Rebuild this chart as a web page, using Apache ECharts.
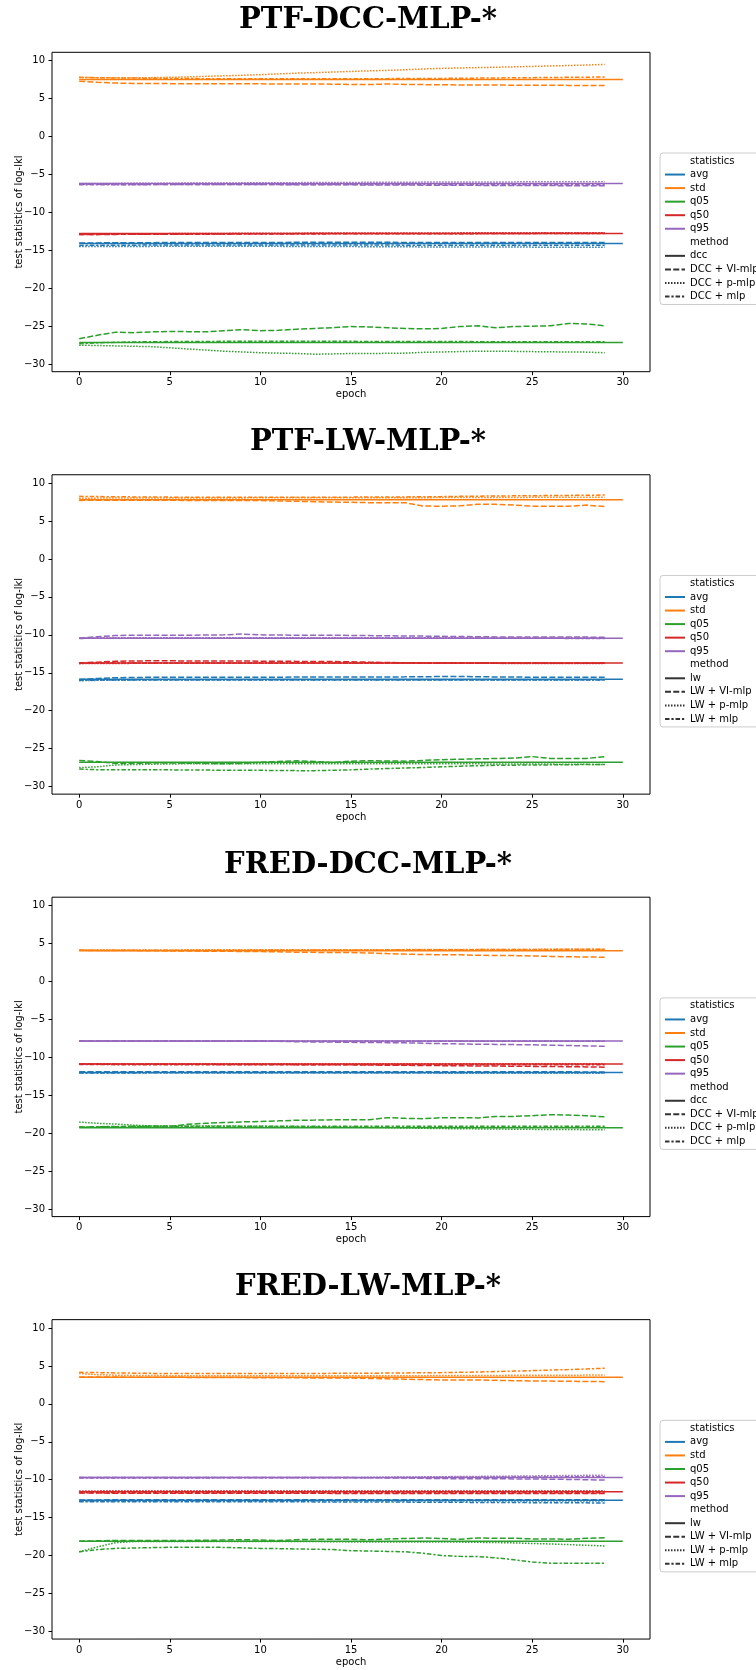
<!DOCTYPE html>
<html><head><meta charset="utf-8">
<script src="https://cdn.jsdelivr.net/npm/echarts@6/dist/echarts.min.js"></script>
<style>html,body{margin:0;padding:0;background:#fff}#chart{width:756px;height:1670px}</style>
</head><body><div id="chart"></div>
<script>
// ---------- data ----------
const epochs = [0,1,2,3,4,5,6,7,8,9,10,11,12,13,14,15,16,17,18,19,20,21,22,23,24,25,26,27,28,29];
const baseEpochs = [0, 30];
const statNames = ['avg','std','q05','q50','q95'];
const panelTitles = ['PTF-DCC-MLP-*','PTF-LW-MLP-*','FRED-DCC-MLP-*','FRED-LW-MLP-*'];
const dccMethods = ['dcc','DCC + VI-mlp','DCC + p-mlp','DCC + mlp'];
const lwMethods = ['lw','LW + VI-mlp','LW + p-mlp','LW + mlp'];
const xTicks = [0,5,10,15,20,25,30];
const yTicks = [-30,-25,-20,-15,-10,-5,0,5,10];

// Panel 1: PTF-DCC-MLP-*  (baseline order: avg, std, q05, q50, q95)
const p1_base = [-14.1, 7.5, -27.15, -12.8, -6.2];
const p1_vi_avg = [-14.05,-14.02,-14.0,-14.0,-13.99,-13.98,-13.98,-13.97,-13.97,-13.96,-13.96,-13.96,-13.95,-13.95,-13.95,-13.95,-13.95,-13.95,-13.96,-13.96,-13.96,-13.96,-13.97,-13.97,-13.97,-13.97,-13.98,-13.98,-13.98,-13.98];
const p1_vi_std = [7.28,7.15,7.05,7.0,6.98,6.97,6.95,6.95,6.96,6.95,6.94,6.93,6.93,6.92,6.9,6.86,6.85,6.92,6.87,6.84,6.82,6.8,6.8,6.78,6.77,6.76,6.75,6.74,6.73,6.71];
const p1_vi_q05 = [-26.65,-26.2,-25.8,-25.85,-25.75,-25.7,-25.72,-25.75,-25.6,-25.45,-25.6,-25.55,-25.4,-25.3,-25.2,-25.05,-25.1,-25.2,-25.3,-25.35,-25.3,-25.05,-24.95,-25.2,-25.05,-25.0,-24.95,-24.65,-24.7,-24.95];
const p1_vi_q50 = [-12.92,-12.9,-12.9,-12.89,-12.88,-12.87,-12.86,-12.85,-12.84,-12.83,-12.82,-12.81,-12.8,-12.8,-12.8,-12.79,-12.79,-12.79,-12.78,-12.78,-12.78,-12.78,-12.77,-12.77,-12.77,-12.77,-12.76,-12.76,-12.76,-12.76];
const p1_vi_q95 = [-6.3,-6.3,-6.31,-6.31,-6.32,-6.32,-6.32,-6.33,-6.33,-6.33,-6.34,-6.34,-6.35,-6.35,-6.36,-6.37,-6.38,-6.39,-6.4,-6.41,-6.42,-6.43,-6.44,-6.45,-6.46,-6.47,-6.47,-6.48,-6.48,-6.48];
const p1_p_avg = [-14.5,-14.5,-14.5,-14.49,-14.48,-14.48,-14.47,-14.47,-14.47,-14.47,-14.48,-14.48,-14.49,-14.5,-14.5,-14.51,-14.52,-14.53,-14.54,-14.55,-14.55,-14.56,-14.56,-14.57,-14.57,-14.58,-14.58,-14.59,-14.59,-14.6];
const p1_p_std = [7.78,7.76,7.75,7.75,7.76,7.8,7.86,7.93,8.0,8.07,8.15,8.25,8.35,8.42,8.5,8.58,8.65,8.72,8.8,8.9,8.98,9.03,9.08,9.13,9.18,9.24,9.3,9.36,9.42,9.5];
const p1_p_q05 = [-27.5,-27.55,-27.6,-27.65,-27.7,-27.85,-28.0,-28.15,-28.3,-28.4,-28.5,-28.55,-28.6,-28.7,-28.65,-28.6,-28.6,-28.58,-28.55,-28.45,-28.4,-28.35,-28.3,-28.3,-28.32,-28.35,-28.38,-28.4,-28.42,-28.5];
const p1_p_q50 = [-12.85,-12.84,-12.83,-12.82,-12.81,-12.8,-12.79,-12.78,-12.77,-12.76,-12.75,-12.74,-12.74,-12.73,-12.73,-12.72,-12.72,-12.72,-12.71,-12.71,-12.71,-12.7,-12.7,-12.7,-12.7,-12.69,-12.69,-12.69,-12.68,-12.68];
const p1_p_q95 = [-6.2,-6.19,-6.18,-6.17,-6.16,-6.15,-6.14,-6.13,-6.12,-6.11,-6.1,-6.09,-6.08,-6.07,-6.06,-6.05,-6.04,-6.03,-6.02,-6.01,-6.0,-6.0,-5.99,-5.98,-5.98,-5.97,-5.96,-5.96,-5.95,-5.95];
const p1_mlp_avg = [-14.35,-14.34,-14.33,-14.32,-14.31,-14.3,-14.3,-14.3,-14.3,-14.3,-14.3,-14.3,-14.3,-14.3,-14.31,-14.31,-14.31,-14.31,-14.32,-14.32,-14.32,-14.32,-14.32,-14.32,-14.32,-14.32,-14.32,-14.32,-14.32,-14.32];
const p1_mlp_std = [7.8,7.75,7.72,7.7,7.68,7.66,7.64,7.62,7.6,7.6,7.6,7.6,7.6,7.6,7.6,7.62,7.62,7.63,7.64,7.65,7.66,7.68,7.7,7.72,7.74,7.76,7.78,7.8,7.82,7.85];
const p1_mlp_q05 = [-27.3,-27.2,-27.12,-27.08,-27.05,-27.03,-27.02,-27.01,-27.0,-27.0,-27.0,-27.0,-27.0,-27.0,-27.0,-27.0,-27.01,-27.01,-27.02,-27.02,-27.03,-27.03,-27.04,-27.04,-27.05,-27.05,-27.05,-27.06,-27.06,-27.06];
const p1_mlp_q50 = [-12.9,-12.9,-12.89,-12.89,-12.88,-12.88,-12.87,-12.87,-12.86,-12.86,-12.85,-12.85,-12.84,-12.84,-12.83,-12.83,-12.82,-12.82,-12.82,-12.81,-12.81,-12.81,-12.8,-12.8,-12.8,-12.8,-12.79,-12.79,-12.79,-12.79];
const p1_mlp_q95 = [-6.35,-6.35,-6.35,-6.35,-6.34,-6.34,-6.34,-6.34,-6.33,-6.33,-6.33,-6.33,-6.33,-6.33,-6.33,-6.33,-6.33,-6.34,-6.34,-6.34,-6.34,-6.35,-6.35,-6.35,-6.36,-6.36,-6.36,-6.37,-6.37,-6.37];

// Panel 2: PTF-LW-MLP-*
const p2_base = [-15.85, 7.8, -26.8, -13.7, -10.45];
const p2_vi_avg = [-15.9,-15.75,-15.65,-15.62,-15.6,-15.6,-15.6,-15.6,-15.6,-15.6,-15.58,-15.58,-15.57,-15.57,-15.56,-15.55,-15.55,-15.55,-15.54,-15.52,-15.5,-15.5,-15.52,-15.55,-15.57,-15.58,-15.6,-15.6,-15.6,-15.6];
const p2_vi_std = [7.72,7.75,7.75,7.74,7.74,7.73,7.72,7.72,7.71,7.7,7.7,7.65,7.6,7.55,7.5,7.46,7.42,7.4,7.4,6.98,6.95,7.0,7.2,7.2,7.1,6.95,6.95,6.95,7.1,6.9];
const p2_vi_q05 = [-26.55,-26.7,-26.95,-26.95,-26.9,-26.9,-26.92,-26.95,-27.0,-26.95,-26.8,-26.7,-26.6,-26.7,-26.85,-26.65,-26.6,-26.62,-26.65,-26.55,-26.45,-26.4,-26.35,-26.3,-26.25,-26.05,-26.3,-26.3,-26.3,-26.05];
const p2_vi_q50 = [-13.7,-13.6,-13.48,-13.45,-13.42,-13.42,-13.45,-13.45,-13.45,-13.45,-13.47,-13.48,-13.5,-13.5,-13.52,-13.55,-13.6,-13.65,-13.68,-13.7,-13.7,-13.7,-13.7,-13.7,-13.7,-13.7,-13.72,-13.72,-13.72,-13.72];
const p2_vi_q95 = [-10.45,-10.25,-10.1,-10.05,-10.05,-10.05,-10.05,-10.03,-10.0,-9.9,-10.0,-10.03,-10.05,-10.05,-10.05,-10.08,-10.1,-10.12,-10.15,-10.17,-10.2,-10.22,-10.25,-10.27,-10.28,-10.3,-10.3,-10.3,-10.3,-10.32];
const p2_p_avg = [-16.05,-16.0,-15.98,-15.97,-15.96,-15.96,-15.95,-15.95,-15.95,-15.95,-15.95,-15.95,-15.95,-15.95,-15.95,-15.95,-15.95,-15.95,-15.95,-15.95,-15.95,-15.95,-15.95,-15.95,-15.96,-15.96,-15.96,-15.96,-15.97,-15.97];
const p2_p_std = [8.0,8.02,8.03,8.03,8.04,8.04,8.05,8.05,8.05,8.05,8.06,8.06,8.06,8.06,8.07,8.07,8.07,8.08,8.08,8.08,8.09,8.09,8.1,8.1,8.11,8.12,8.13,8.14,8.14,8.15];
const p2_p_q05 = [-27.5,-27.4,-27.15,-27.1,-27.05,-27.02,-27.0,-27.0,-27.0,-27.0,-27.0,-27.0,-27.0,-27.0,-27.0,-27.0,-27.0,-27.0,-27.0,-27.0,-27.0,-27.0,-27.0,-27.02,-27.02,-27.03,-27.04,-27.05,-27.07,-27.1];
const p2_p_q50 = [-13.8,-13.78,-13.77,-13.76,-13.76,-13.75,-13.75,-13.75,-13.75,-13.75,-13.75,-13.75,-13.75,-13.75,-13.75,-13.75,-13.75,-13.75,-13.76,-13.76,-13.76,-13.76,-13.76,-13.76,-13.77,-13.77,-13.77,-13.77,-13.78,-13.78];
const p2_p_q95 = [-10.42,-10.41,-10.4,-10.4,-10.4,-10.4,-10.39,-10.39,-10.39,-10.39,-10.39,-10.39,-10.39,-10.39,-10.39,-10.4,-10.4,-10.4,-10.4,-10.4,-10.4,-10.4,-10.41,-10.41,-10.41,-10.41,-10.42,-10.42,-10.42,-10.42];
const p2_mlp_avg = [-15.98,-15.97,-15.96,-15.96,-15.95,-15.95,-15.95,-15.95,-15.94,-15.94,-15.94,-15.94,-15.94,-15.94,-15.94,-15.94,-15.95,-15.95,-15.95,-15.95,-15.95,-15.96,-15.96,-15.96,-15.96,-15.96,-15.97,-15.97,-15.97,-15.97];
const p2_mlp_std = [8.25,8.22,8.2,8.18,8.16,8.15,8.14,8.13,8.12,8.12,8.12,8.12,8.12,8.13,8.14,8.15,8.16,8.17,8.18,8.2,8.22,8.25,8.28,8.3,8.32,8.34,8.36,8.38,8.4,8.42];
const p2_mlp_q05 = [-27.7,-27.78,-27.8,-27.8,-27.8,-27.8,-27.82,-27.83,-27.84,-27.85,-27.86,-27.88,-27.9,-27.9,-27.85,-27.8,-27.7,-27.62,-27.55,-27.48,-27.4,-27.32,-27.25,-27.2,-27.18,-27.15,-27.14,-27.12,-27.1,-27.1];
const p2_mlp_q50 = [-13.74,-13.73,-13.72,-13.72,-13.71,-13.71,-13.71,-13.7,-13.7,-13.7,-13.7,-13.7,-13.7,-13.7,-13.7,-13.7,-13.7,-13.71,-13.71,-13.71,-13.71,-13.72,-13.72,-13.72,-13.72,-13.72,-13.73,-13.73,-13.73,-13.73];
const p2_mlp_q95 = [-10.47,-10.46,-10.46,-10.45,-10.45,-10.45,-10.45,-10.45,-10.44,-10.44,-10.44,-10.44,-10.44,-10.44,-10.44,-10.44,-10.45,-10.45,-10.45,-10.45,-10.45,-10.45,-10.46,-10.46,-10.46,-10.46,-10.46,-10.47,-10.47,-10.47];

// Panel 3: FRED-DCC-MLP-*
const p3_base = [-12.0, 4.05, -19.3, -10.9, -7.85];
const p3_vi_avg = [-11.92,-11.91,-11.9,-11.9,-11.9,-11.9,-11.9,-11.9,-11.9,-11.9,-11.9,-11.9,-11.9,-11.9,-11.9,-11.9,-11.9,-11.9,-11.9,-11.9,-11.9,-11.9,-11.9,-11.91,-11.91,-11.91,-11.92,-11.92,-11.93,-11.95];
const p3_vi_std = [4.1,4.08,4.07,4.06,4.04,4.02,4.0,3.98,3.97,3.95,3.94,3.9,3.85,3.83,3.81,3.8,3.75,3.67,3.6,3.54,3.52,3.5,3.45,3.42,3.4,3.36,3.3,3.25,3.22,3.19];
const p3_vi_q05 = [-19.2,-19.18,-19.15,-19.12,-19.1,-19.1,-18.84,-18.7,-18.6,-18.52,-18.45,-18.38,-18.3,-18.28,-18.25,-18.23,-18.23,-17.96,-18.05,-18.1,-17.96,-17.97,-17.99,-17.79,-17.79,-17.7,-17.57,-17.62,-17.7,-17.85];
const p3_vi_q50 = [-10.9,-10.9,-10.91,-10.91,-10.92,-10.92,-10.93,-10.93,-10.94,-10.94,-10.95,-10.96,-10.97,-10.98,-10.99,-11.0,-11.02,-11.04,-11.06,-11.08,-11.1,-11.12,-11.14,-11.16,-11.18,-11.2,-11.22,-11.24,-11.27,-11.3];
const p3_vi_q95 = [-7.85,-7.85,-7.85,-7.85,-7.85,-7.85,-7.85,-7.85,-7.85,-7.85,-7.86,-7.9,-7.95,-7.98,-8.0,-8.03,-8.05,-8.07,-8.1,-8.15,-8.2,-8.24,-8.28,-8.3,-8.33,-8.35,-8.4,-8.45,-8.5,-8.55];
const p3_p_avg = [-12.05,-12.05,-12.05,-12.05,-12.05,-12.05,-12.05,-12.05,-12.05,-12.05,-12.05,-12.05,-12.05,-12.05,-12.05,-12.05,-12.05,-12.05,-12.05,-12.05,-12.06,-12.06,-12.06,-12.06,-12.06,-12.06,-12.06,-12.06,-12.06,-12.06];
const p3_p_std = [4.15,4.15,4.15,4.15,4.15,4.15,4.16,4.16,4.16,4.16,4.16,4.17,4.17,4.17,4.17,4.18,4.18,4.18,4.19,4.19,4.2,4.2,4.21,4.21,4.22,4.22,4.23,4.23,4.24,4.25];
const p3_p_q05 = [-18.54,-18.7,-18.8,-18.95,-19.05,-19.05,-19.05,-19.05,-19.05,-19.08,-19.1,-19.12,-19.14,-19.16,-19.18,-19.2,-19.24,-19.28,-19.32,-19.36,-19.4,-19.42,-19.44,-19.46,-19.48,-19.5,-19.52,-19.53,-19.54,-19.55];
const p3_p_q50 = [-10.86,-10.86,-10.85,-10.85,-10.85,-10.85,-10.85,-10.85,-10.85,-10.85,-10.85,-10.85,-10.85,-10.85,-10.85,-10.85,-10.85,-10.85,-10.85,-10.85,-10.85,-10.85,-10.85,-10.85,-10.85,-10.85,-10.85,-10.85,-10.85,-10.85];
const p3_p_q95 = [-7.9,-7.9,-7.9,-7.9,-7.9,-7.9,-7.9,-7.9,-7.9,-7.9,-7.9,-7.9,-7.9,-7.9,-7.9,-7.9,-7.9,-7.9,-7.9,-7.9,-7.9,-7.9,-7.9,-7.9,-7.9,-7.9,-7.9,-7.9,-7.9,-7.9];
const p3_mlp_avg = [-12.06,-12.06,-12.06,-12.06,-12.05,-12.05,-12.05,-12.05,-12.05,-12.05,-12.05,-12.05,-12.05,-12.05,-12.05,-12.05,-12.05,-12.05,-12.05,-12.05,-12.05,-12.05,-12.05,-12.05,-12.05,-12.05,-12.05,-12.05,-12.05,-12.05];
const p3_mlp_std = [4.1,4.1,4.1,4.1,4.11,4.11,4.11,4.12,4.12,4.12,4.13,4.13,4.13,4.14,4.14,4.15,4.15,4.16,4.16,4.17,4.18,4.18,4.19,4.2,4.21,4.21,4.22,4.23,4.24,4.25];
const p3_mlp_q05 = [-19.2,-19.15,-19.12,-19.1,-19.1,-19.1,-19.1,-19.1,-19.1,-19.1,-19.1,-19.1,-19.1,-19.1,-19.1,-19.1,-19.1,-19.1,-19.1,-19.1,-19.1,-19.1,-19.1,-19.1,-19.1,-19.1,-19.1,-19.1,-19.1,-19.1];
const p3_mlp_q50 = [-10.95,-10.96,-10.97,-10.98,-10.98,-10.99,-10.99,-11.0,-11.0,-11.0,-11.0,-11.0,-11.0,-11.0,-11.0,-11.0,-11.0,-11.0,-11.0,-11.0,-11.0,-11.0,-11.0,-11.0,-11.0,-11.0,-11.0,-11.0,-11.0,-11.0];
const p3_mlp_q95 = [-7.88,-7.88,-7.88,-7.88,-7.88,-7.88,-7.88,-7.88,-7.89,-7.89,-7.89,-7.89,-7.89,-7.89,-7.89,-7.89,-7.9,-7.9,-7.9,-7.9,-7.9,-7.9,-7.9,-7.9,-7.9,-7.9,-7.9,-7.9,-7.9,-7.9];

// Panel 4: FRED-LW-MLP-*
const p4_base = [-12.72, 3.5, -18.1, -11.6, -9.7];
const p4_vi_avg = [-12.68,-12.66,-12.65,-12.65,-12.65,-12.65,-12.65,-12.65,-12.65,-12.65,-12.65,-12.65,-12.65,-12.65,-12.65,-12.65,-12.65,-12.65,-12.65,-12.65,-12.65,-12.65,-12.65,-12.65,-12.65,-12.65,-12.65,-12.65,-12.65,-12.65];
const p4_vi_std = [3.55,3.54,3.53,3.52,3.51,3.5,3.49,3.48,3.47,3.46,3.45,3.44,3.43,3.42,3.41,3.4,3.35,3.3,3.25,3.2,3.15,3.15,3.15,3.1,3.06,3.02,3.0,2.98,2.95,2.93];
const p4_vi_q05 = [-18.1,-18.05,-18.0,-18.0,-18.0,-18.0,-18.0,-17.98,-17.95,-17.9,-17.95,-18.02,-17.9,-17.85,-17.85,-17.85,-17.92,-17.8,-17.75,-17.68,-17.75,-17.85,-17.68,-17.72,-17.72,-17.8,-17.8,-17.85,-17.72,-17.65];
const p4_vi_q50 = [-11.75,-11.76,-11.77,-11.77,-11.78,-11.78,-11.78,-11.78,-11.78,-11.79,-11.79,-11.79,-11.79,-11.79,-11.8,-11.8,-11.8,-11.8,-11.8,-11.8,-11.81,-11.81,-11.81,-11.81,-11.82,-11.82,-11.82,-11.82,-11.83,-11.83];
const p4_vi_q95 = [-9.7,-9.7,-9.7,-9.7,-9.7,-9.7,-9.7,-9.7,-9.7,-9.7,-9.7,-9.7,-9.71,-9.71,-9.72,-9.72,-9.74,-9.76,-9.78,-9.82,-9.85,-9.86,-9.87,-9.88,-9.89,-9.9,-9.93,-9.96,-10.0,-10.05];
const p4_p_avg = [-12.8,-12.8,-12.8,-12.8,-12.8,-12.8,-12.8,-12.8,-12.8,-12.8,-12.8,-12.8,-12.8,-12.8,-12.8,-12.8,-12.8,-12.8,-12.8,-12.8,-12.8,-12.8,-12.8,-12.8,-12.8,-12.8,-12.8,-12.8,-12.8,-12.8];
const p4_p_std = [4.0,3.85,3.78,3.75,3.73,3.72,3.71,3.7,3.7,3.7,3.7,3.7,3.7,3.7,3.7,3.7,3.7,3.71,3.72,3.72,3.73,3.74,3.74,3.75,3.76,3.76,3.77,3.78,3.79,3.8];
const p4_p_q05 = [-19.5,-18.86,-18.3,-18.15,-18.15,-18.15,-18.15,-18.15,-18.15,-18.15,-18.15,-18.15,-18.15,-18.15,-18.17,-18.2,-18.2,-18.2,-18.2,-18.2,-18.2,-18.22,-18.25,-18.28,-18.33,-18.4,-18.47,-18.55,-18.64,-18.73];
const p4_p_q50 = [-11.48,-11.47,-11.46,-11.46,-11.45,-11.45,-11.45,-11.45,-11.45,-11.45,-11.45,-11.45,-11.45,-11.45,-11.45,-11.45,-11.45,-11.45,-11.45,-11.45,-11.45,-11.45,-11.45,-11.45,-11.45,-11.45,-11.45,-11.45,-11.45,-11.45];
const p4_p_q95 = [-9.72,-9.72,-9.72,-9.72,-9.72,-9.72,-9.72,-9.72,-9.72,-9.72,-9.72,-9.72,-9.71,-9.71,-9.7,-9.7,-9.68,-9.66,-9.65,-9.62,-9.6,-9.58,-9.56,-9.54,-9.52,-9.5,-9.47,-9.45,-9.42,-9.4];
const p4_mlp_avg = [-12.9,-12.9,-12.9,-12.9,-12.9,-12.9,-12.9,-12.9,-12.9,-12.9,-12.9,-12.91,-12.91,-12.92,-12.92,-12.93,-12.93,-12.94,-12.95,-12.96,-12.97,-12.98,-12.99,-13.0,-13.01,-13.02,-13.03,-13.04,-13.05,-13.07];
const p4_mlp_std = [4.16,4.12,4.08,4.05,4.02,4.0,4.0,4.0,4.0,4.0,4.0,4.0,4.0,4.01,4.02,4.02,4.04,4.06,4.08,4.1,4.12,4.16,4.2,4.26,4.32,4.38,4.45,4.52,4.6,4.69];
const p4_mlp_q05 = [-19.5,-19.21,-19.05,-19.0,-18.95,-18.91,-18.9,-18.9,-18.92,-18.98,-19.05,-19.08,-19.12,-19.16,-19.2,-19.35,-19.4,-19.45,-19.5,-19.7,-20.0,-20.1,-20.12,-20.3,-20.55,-20.84,-21.0,-21.02,-21.0,-21.0];
const p4_mlp_q50 = [-11.7,-11.7,-11.7,-11.7,-11.7,-11.7,-11.7,-11.7,-11.7,-11.7,-11.7,-11.7,-11.7,-11.7,-11.7,-11.7,-11.7,-11.7,-11.7,-11.7,-11.7,-11.7,-11.7,-11.7,-11.7,-11.7,-11.7,-11.7,-11.7,-11.7];
const p4_mlp_q95 = [-9.76,-9.76,-9.76,-9.76,-9.76,-9.76,-9.76,-9.76,-9.75,-9.75,-9.75,-9.75,-9.75,-9.75,-9.74,-9.74,-9.73,-9.72,-9.71,-9.7,-9.69,-9.68,-9.67,-9.66,-9.65,-9.64,-9.63,-9.62,-9.61,-9.6];

// ---------- assembly ----------
const panels = [
  {title: panelTitles[0], methods: dccMethods, base: p1_base,
   runs: [[p1_vi_avg,p1_vi_std,p1_vi_q05,p1_vi_q50,p1_vi_q95],[p1_p_avg,p1_p_std,p1_p_q05,p1_p_q50,p1_p_q95],[p1_mlp_avg,p1_mlp_std,p1_mlp_q05,p1_mlp_q50,p1_mlp_q95]]},
  {title: panelTitles[1], methods: lwMethods, base: p2_base,
   runs: [[p2_vi_avg,p2_vi_std,p2_vi_q05,p2_vi_q50,p2_vi_q95],[p2_p_avg,p2_p_std,p2_p_q05,p2_p_q50,p2_p_q95],[p2_mlp_avg,p2_mlp_std,p2_mlp_q05,p2_mlp_q50,p2_mlp_q95]]},
  {title: panelTitles[2], methods: dccMethods, base: p3_base,
   runs: [[p3_vi_avg,p3_vi_std,p3_vi_q05,p3_vi_q50,p3_vi_q95],[p3_p_avg,p3_p_std,p3_p_q05,p3_p_q50,p3_p_q95],[p3_mlp_avg,p3_mlp_std,p3_mlp_q05,p3_mlp_q50,p3_mlp_q95]]},
  {title: panelTitles[3], methods: lwMethods, base: p4_base,
   runs: [[p4_vi_avg,p4_vi_std,p4_vi_q05,p4_vi_q50,p4_vi_q95],[p4_p_avg,p4_p_std,p4_p_q05,p4_p_q50,p4_p_q95],[p4_mlp_avg,p4_mlp_std,p4_mlp_q05,p4_mlp_q50,p4_mlp_q95]]}
];

const statColors = ['#1f77b4','#ff7f0e','#2ca02c','#d62728','#9467bd'];
const methodDash = ['solid', [6, 2.25], [1.5, 1.5], [4.5, 1.9, 2.25, 1.9]];
const FONT = 'DejaVu Sans';
const TOP0 = 52.3, STEP = 422.45, PH = 319.4;

const grid = [], xAxis = [], yAxis = [], legend = [], series = [], graphic = [];
const fmtY = v => (v < 0 ? '\u2212' + Math.abs(v) : String(v));

function lineSeries(name, gi, data, color, dash, z) {
  return {
    name, type: 'line', xAxisIndex: gi, yAxisIndex: gi, data,
    symbol: 'none', showSymbol: false, smooth: false, animation: false, silent: true, z: z,
    lineStyle: {color, width: 1.5, type: dash}, itemStyle: {color, opacity: 0},
    emphasis: {disabled: true}
  };
}

panels.forEach((p, i) => {
  const top = TOP0 + STEP * i;
  grid.push({left: 52, top: top, width: 598, height: PH, show: true, borderColor: '#000', borderWidth: 1, backgroundColor: '#fff'});
  xAxis.push({
    gridIndex: i, type: 'value', min: -1.5, max: 31.5, position: 'bottom',
    axisLine: {show: false, onZero: false}, splitLine: {show: false},
    axisTick: {show: true, length: 3.5, customValues: xTicks, lineStyle: {color: '#000', width: 1}},
    axisLabel: {customValues: xTicks, margin: 6, color: '#000', fontFamily: FONT, fontSize: 10},
    name: 'epoch', nameLocation: 'middle', nameGap: 18,
    nameTextStyle: {color: '#000', fontFamily: FONT, fontSize: 10}
  });
  yAxis.push({
    gridIndex: i, type: 'value', min: -31, max: 11.1, position: 'left',
    axisLine: {show: false, onZero: false}, splitLine: {show: false},
    axisTick: {show: true, length: 3.5, customValues: yTicks, lineStyle: {color: '#000', width: 1}},
    axisLabel: {customValues: yTicks, margin: 7, color: '#000', fontFamily: FONT, fontSize: 10, formatter: fmtY},
    name: 'test statistics of log-lkl', nameLocation: 'middle', nameGap: 28, nameMoveOverlap: false,
    nameTextStyle: {color: '#000', fontFamily: FONT, fontSize: 10}
  });
  graphic.push({
    type: 'text', x: 368, y: top - 32, silent: true,
    style: {text: p.title, fill: '#000', align: 'center', verticalAlign: 'middle',
            font: 'bold 29px "DejaVu Serif"'}
  });
  legend.push({
    orient: 'vertical', left: 660, top: top + 100.7, padding: [2, 10, 2, 4],
    itemWidth: 20, itemHeight: 8, itemGap: 1.55, selectedMode: false,
    backgroundColor: 'rgba(255,255,255,0.8)', borderColor: '#cccccc', borderWidth: 1, borderRadius: 3,
    itemStyle: {opacity: 0},
    textStyle: {fontFamily: FONT, fontSize: 10, lineHeight: 12, color: '#000'},
    data: [{name: 'statistics', icon: 'none'}].concat(statNames, [{name: 'method', icon: 'none'}], p.methods)
  });
  statNames.forEach((s, k) => {
    series.push(lineSeries(s, i, baseEpochs.map(x => [x, p.base[k]]), statColors[k], methodDash[0], 2));
    p.runs.forEach((run, m) => {
      series.push(lineSeries(s, i, epochs.map((x, j) => [x, run[k][j]]), statColors[k], methodDash[m + 1], 2));
    });
  });
});

// legend-only entries (headers and method styles)
series.push(lineSeries('statistics', 0, [], 'rgba(0,0,0,0)', 'solid', 1));
series.push(lineSeries('method', 0, [], 'rgba(0,0,0,0)', 'solid', 1));
dccMethods.concat(lwMethods).forEach((name, idx) => {
  series.push(lineSeries(name, 0, [], '#333333', methodDash[idx % 4], 1));
});

const chart = echarts.init(document.getElementById('chart'), null, {renderer: 'canvas'});
chart.setOption({backgroundColor: '#fff', animation: false, grid, xAxis, yAxis, legend, series, graphic});
</script>
</body></html>
